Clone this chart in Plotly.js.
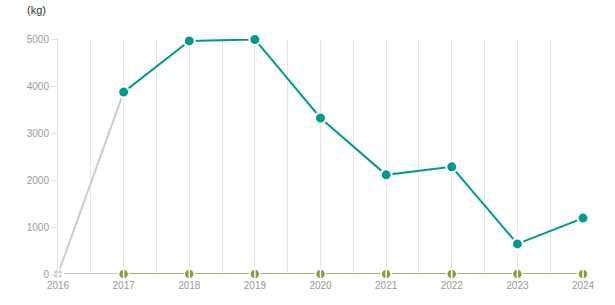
<!DOCTYPE html>
<html><head><meta charset="utf-8">
<script src="https://cdn.plot.ly/plotly-3.0.1.min.js"></script>
<style>body{margin:0;padding:0;background:#fff}#c{width:615px;height:305px}</style>
</head><body><div id="c"></div>
<script>
const years = [2016, 2017, 2018, 2019, 2020, 2021, 2022, 2023, 2024];
const seriesA = [0, 3870, 4960, 4990, 3320, 2110, 2280, 640, 1190];
const seriesB = [0, 0, 0, 0, 0, 0, 0, 0, 0];
const tickLabels = ['2016','2017','2018','2019','2020','2021','2022','2023','2024'];
const yTicks = [0, 1000, 2000, 3000, 4000, 5000];

const teal = '#009a90', olive = '#8a9a3c', grey = '#cccccc';
const traces = [
  {x: years.slice(0,2), y: seriesB.slice(0,2), mode:'lines', line:{color:grey,width:2}, hoverinfo:'skip', cliponaxis:false},
  {x: years.slice(0,2), y: seriesA.slice(0,2), mode:'lines', line:{color:grey,width:2}, hoverinfo:'skip', cliponaxis:false},
  {x: years.slice(1), y: seriesB.slice(1), mode:'lines+markers', line:{color:olive,width:1.3},
   marker:{color:olive,size:10,line:{color:'#fff',width:1.5}}, cliponaxis:false},
  {x: years.slice(1), y: seriesB.slice(1), mode:'markers',
   marker:{symbol:'line-ns',size:8,line:{color:'#fff',width:1.5}}, cliponaxis:false},
  {x: years.slice(1), y: seriesA.slice(1), mode:'lines+markers', line:{color:teal,width:2},
   marker:{color:teal,size:11,line:{color:'#fff',width:2}}, cliponaxis:false},
  {x: years.slice(0,1), y: seriesA.slice(0,1), mode:'markers',
   marker:{color:grey,size:10,line:{color:'#fff',width:1.5}}, cliponaxis:false},
  {x: years.slice(0,1), y: seriesA.slice(0,1), mode:'markers',
   marker:{symbol:'cross-thin',size:8,line:{color:'#fff',width:1.5}}, cliponaxis:false}
];
const layout = {
  width:615, height:305, showlegend:false,
  margin:{l:58, r:32, t:39, b:31},
  paper_bgcolor:'#fff', plot_bgcolor:'#fff',
  font:{family:'Liberation Sans, Arial, sans-serif', size:10, color:'#999'},
  xaxis:{range:[2016,2024], tickvals:years, ticktext:tickLabels, showgrid:true, gridcolor:'#e6e6e6', gridwidth:1,
    minor:{dtick:0.5, tick0:2016, showgrid:true, gridcolor:'#e6e6e6', gridwidth:1},
    zeroline:false, showline:false, ticks:'', ticklabelstandoff:4, tickfont:{size:10,color:'#999'}, fixedrange:true},
  yaxis:{range:[0,5000], tickvals:yTicks, showgrid:false, zeroline:false, showline:true, linecolor:'#e0e0e0', linewidth:1,
    ticks:'outside', ticklen:6, tickcolor:'#e0e0e0', tickfont:{size:10,color:'#999'}, fixedrange:true},
  annotations:[{text:'(kg)', xref:'paper', yref:'paper', x:-0.062, y:1, xanchor:'left', yanchor:'bottom', yshift:21,
    showarrow:false, font:{size:11,color:'#333'}}]
};
Plotly.newPlot('c', traces, layout, {displayModeBar:false, staticPlot:true});
</script></body></html>
